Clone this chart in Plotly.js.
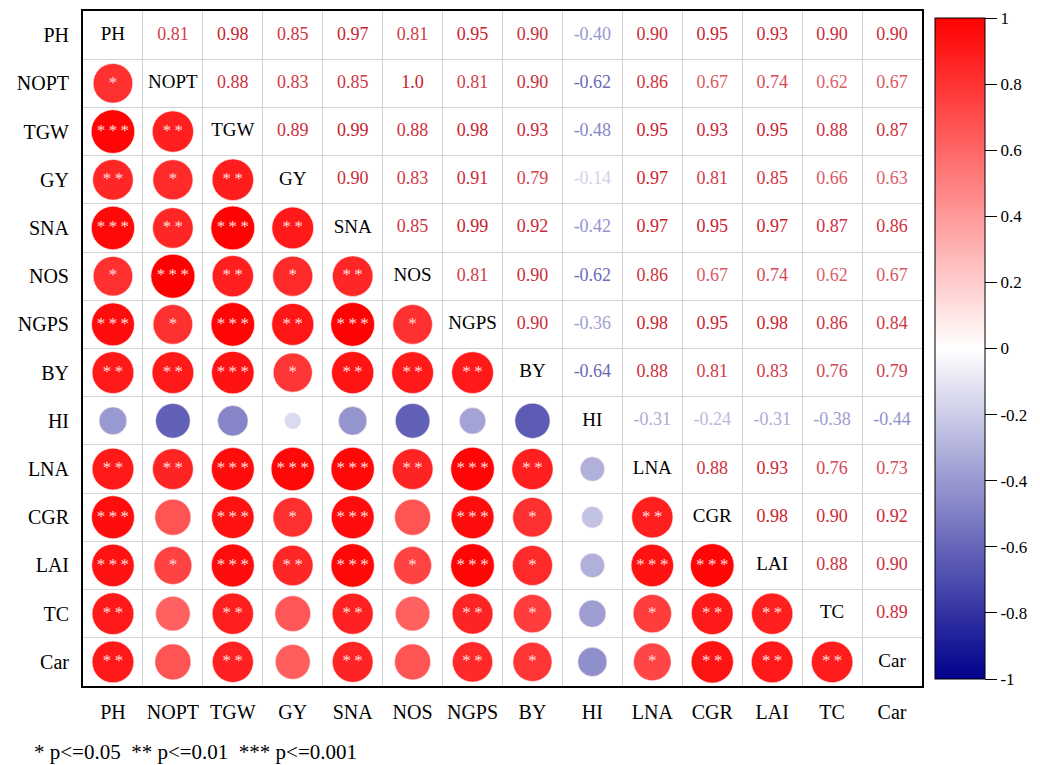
<!DOCTYPE html>
<html>
<head>
<meta charset="utf-8">
<script src="https://cdn.plot.ly/plotly-3.0.1.min.js"></script>
<style>html,body{margin:0;padding:0;background:#fff;}#chart{width:1040px;height:765px;}</style>
</head>
<body>
<div id="chart"></div>
<script>
// Variable names
var names = ["PH","NOPT","TGW","GY","SNA","NOS","NGPS","BY","HI","LNA","CGR","LAI","TC","Car"];

// Upper-triangle correlations: row i lists r(i, j) for j = i+1 .. 13
var rPH   = [0.81,0.98,0.85,0.97,0.81,0.95,0.90,-0.40,0.90,0.95,0.93,0.90,0.90];
var rNOPT = [0.88,0.83,0.85,1.0,0.81,0.90,-0.62,0.86,0.67,0.74,0.62,0.67];
var rTGW  = [0.89,0.99,0.88,0.98,0.93,-0.48,0.95,0.93,0.95,0.88,0.87];
var rGY   = [0.90,0.83,0.91,0.79,-0.14,0.97,0.81,0.85,0.66,0.63];
var rSNA  = [0.85,0.99,0.92,-0.42,0.97,0.95,0.97,0.87,0.86];
var rNOS  = [0.81,0.90,-0.62,0.86,0.67,0.74,0.62,0.67];
var rNGPS = [0.90,-0.36,0.98,0.95,0.98,0.86,0.84];
var rBY   = [-0.64,0.88,0.81,0.83,0.76,0.79];
var rHI   = [-0.31,-0.24,-0.31,-0.38,-0.44];
var rLNA  = [0.88,0.93,0.76,0.73];
var rCGR  = [0.98,0.90,0.92];
var rLAI  = [0.88,0.90];
var rTC   = [0.89];
var upperRows = [rPH,rNOPT,rTGW,rGY,rSNA,rNOS,rNGPS,rBY,rHI,rLNA,rCGR,rLAI,rTC,[]];

// Significance stars, lower triangle: row i lists stars for j = 0 .. i-1
var sNOPT = ["*"];
var sTGW  = ["***","**"];
var sGY   = ["**","*","**"];
var sSNA  = ["***","**","***","**"];
var sNOS  = ["*","***","**","*","**"];
var sNGPS = ["***","*","***","**","***","*"];
var sBY   = ["**","**","***","*","**","**","**"];
var sHI   = ["","","","","","","",""];
var sLNA  = ["**","**","***","***","***","**","***","**",""];
var sCGR  = ["***","","***","*","***","","***","*","","**"];
var sLAI  = ["***","*","***","**","***","*","***","*","","***","***"];
var sTC   = ["**","","**","","**","","**","*","","*","**","**"];
var sCar  = ["**","","**","","**","","**","*","","*","**","**","**"];
var starRows = [[],sNOPT,sTGW,sGY,sSNA,sNOS,sNGPS,sBY,sHI,sLNA,sCGR,sLAI,sTC,sCar];

var colorTicks = [1,0.8,0.6,0.4,0.2,0,-0.2,-0.4,-0.6,-0.8,-1];
var colorTickText = ["1","0.8","0.6","0.4","0.2","0","-0.2","-0.4","-0.6","-0.8","-1"];

var n = names.length;
function r(i,j){ if(i===j) return 1; if(j>i) return upperRows[i][j-i-1]; return upperRows[j][i-j-1]; }

var cx=[],cy=[],cv=[],csz=[];
var sx=[],sy=[],st=[];
var ux=[],uy=[],ut=[],uc=[];
var dx=[],dy=[],dt=[];
function textColor(v){
  var a=Math.abs(v);
  var t = v>=0 ? [200,25,40] : [40,40,150];
  var c=t.map(function(k){return Math.round(255-(255-k)*Math.pow(a,0.8));});
  return 'rgb('+c.join(',')+')';
}
for(var i=0;i<n;i++){
  for(var j=0;j<n;j++){
    if(i===j){ dx.push(j); dy.push(i); dt.push(names[i]); }
    else if(j>i){
      var v=r(i,j);
      ux.push(j); uy.push(i);
      ut.push(Math.abs(v)===1 ? v.toFixed(1) : v.toFixed(2));
      uc.push(textColor(v));
    } else {
      var v2=r(i,j);
      cx.push(j); cy.push(i); cv.push(v2); csz.push(44*Math.sqrt(Math.abs(v2)));
      var s=starRows[i][j];
      if(s){ sx.push(j); sy.push(i); st.push(s.split('').join('\u2009')); }
    }
  }
}

var serif = "'Liberation Serif', 'Times New Roman', serif";
var cs = [[0,'rgb(0,0,140)'],[0.5,'rgb(255,255,255)'],[1,'rgb(255,0,0)']];

var traces = [
  {type:'scatter',mode:'markers',x:cx,y:cy,hoverinfo:'skip',
   marker:{size:csz,sizemode:'diameter',color:cv,colorscale:cs,cmin:-1,cmax:1,
     line:{width:1,color:'rgba(255,235,235,0.6)'},opacity:1,
     showscale:true,
     colorbar:{x:1.0155,xanchor:'left',xref:'paper',y:0.5,yanchor:'middle',len:0.979,lenmode:'fraction',
       xpad:0,ypad:0,
       thickness:50,outlinewidth:1,outlinecolor:'#000',ticks:'outside',ticklen:12,tickwidth:1,tickcolor:'#000',
       tickvals:colorTicks,ticktext:colorTickText,tickfont:{family:serif,size:17,color:'#000'}}}},
  {type:'scatter',mode:'text',x:sx,y:sy,text:st,textposition:'middle center',hoverinfo:'skip',
   textfont:{family:serif,size:17,color:'rgb(255,222,222)'}},
  {type:'scatter',mode:'text',x:ux,y:uy,text:ut,textposition:'middle center',hoverinfo:'skip',
   textfont:{family:serif,size:18,color:uc}},
  {type:'scatter',mode:'text',x:dx,y:dy,text:dt,textposition:'middle center',hoverinfo:'skip',
   textfont:{family:serif,size:19,color:'#000'}}
];

var idx=[],half=[];
for(var k=0;k<n;k++){ idx.push(k); }
for(var k2=0;k2<=n;k2++){ half.push(k2-0.5); }

var layout = {
  width:1040,height:765,
  margin:{l:83,r:118,t:11,b:79,autoexpand:false},
  paper_bgcolor:'#fff',plot_bgcolor:'#fff',
  showlegend:false,
  xaxis:{range:[-0.5,n-0.5],tickmode:'array',tickvals:idx,ticktext:names,
    ticks:'outside',ticklen:7,tickcolor:'rgba(0,0,0,0)',
    tickfont:{family:serif,size:20,color:'#000'},
    showgrid:false,zeroline:false,showline:true,mirror:true,linewidth:2,linecolor:'#000',
    minor:{tickmode:'array',tickvals:half,showgrid:true,gridcolor:'#d4d4d4',gridwidth:1,ticks:''},
    fixedrange:true},
  yaxis:{range:[n-0.5,-0.5],tickmode:'array',tickvals:idx,ticktext:names,
    ticks:'outside',ticklen:8,tickcolor:'rgba(0,0,0,0)',
    tickfont:{family:serif,size:20,color:'#000'},
    showgrid:false,zeroline:false,showline:true,mirror:true,linewidth:2,linecolor:'#000',
    minor:{tickmode:'array',tickvals:half,showgrid:true,gridcolor:'#d4d4d4',gridwidth:1,ticks:''},
    fixedrange:true},
  annotations:[{xref:'paper',yref:'paper',x:-0.0608,y:-0.098,xanchor:'left',yanchor:'middle',showarrow:false,
    text:'* p<=0.05 &nbsp;** p<=0.01 &nbsp;*** p<=0.001',font:{family:serif,size:21,color:'#000'}}]
};

Plotly.newPlot('chart',traces,layout,{displayModeBar:false,staticPlot:true});
</script>
</body>
</html>
